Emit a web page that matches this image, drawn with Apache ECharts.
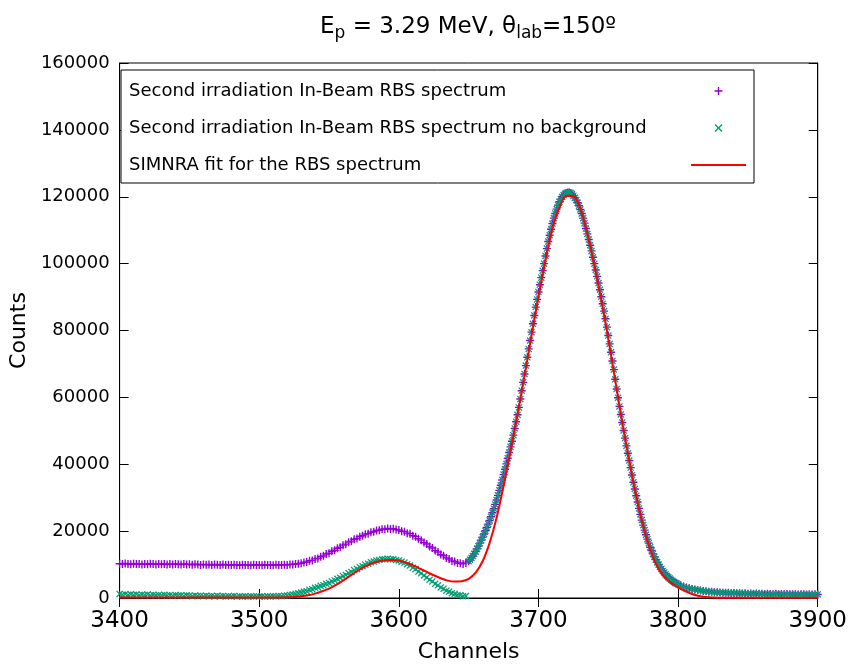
<!DOCTYPE html>
<html>
<head>
<meta charset="utf-8">
<script src="https://cdn.jsdelivr.net/npm/echarts@6/dist/echarts.min.js"></script>
<style>html,body{margin:0;padding:0;background:#fff;}#c{width:850px;height:668px;}</style>
</head>
<body>
<div id="c"></div>
<script>
// Channel sampling of the three spectrum regions
const lowStart = 3400, lowStep = 2;    // 3400..3648
const peakStart = 3650, peakStep = 1;  // 3650..3799
const tailStart = 3800, tailStep = 2;  // 3800..3900
const fitStart = 3400, fitStep = 5;    // 3400..3900

// In-beam RBS spectrum (with background), channels 3400..3648
const rawLow = [
  10250,10150,10300,10200,10100,10250,10150,10200,10050,10200,10100,10250,10150,10050,10200,10100,10150,10000,10150,10050,10200,10100,10000,10150,10050,
  10100,9950,10100,10000,9900,10050,9950,10000,9850,10000,9950,9850,10000,9900,9950,9850,9950,9900,9800,9950,9850,9900,9800,9950,9850,
  9900,9800,9950,9850,9900,9800,9950,9900,9850,9950,9900,10000,10050,10150,10250,
  10400,10650,10750,11150,11250,11700,11850,12350,12600,13150,13400,14000,14300,14900,15200,15800,16100,16700,17000,17550,17800,18350,18600,19100,19250,19700,19800,20200,20250,20550,20550,20800,20650,20700,20450,
  20350,19950,19850,19400,19200,18650,18350,17700,17300,16600,16150,15400,14950,14200,13750,13000,12650,12000,11650,11100,10900,10450,10400,10200,10500
];
// Background-subtracted spectrum, channels 3400..3648
const netLow = [
  1200,1000,1150,900,1100,950,1050,850,1000,900,1050,800,950,850,900,750,950,800,850,700,900,750,800,650,850,
  700,550,750,600,650,500,700,550,600,450,650,500,600,450,550,500,600,400,550,450,500,400,550,450,500,
  450,550,400,500,450,550,500,600,550,700,750,900,1050,1250,1450,
  1650,1900,2050,2450,2650,3050,3250,3650,3850,4250,4450,4950,5250,5750,6050,6550,6900,7450,7800,8350,8700,9200,9500,10000,10250,10700,10900,11250,11350,11600,11600,11750,11600,11600,11350,
  11250,10850,10600,10100,9700,9050,8600,7900,7400,6700,6150,5450,4950,4250,3800,3150,2750,2200,1900,1450,1250,900,800,550,600
];
// Main peak, channels 3650..3799 (same in both spectra)
const peakCounts = [
  11000,11450,12000,12550,13200,13900,14700,15500,16400,17300,
  18200,19150,20100,21100,22100,23200,24300,25500,26700,28000,
  29300,30700,32200,33700,35300,36900,38500,40100,41800,43500,
  45200,46900,48700,50700,52700,54800,57000,59500,62000,64500,
  67000,69500,72000,74500,77000,79500,82000,84500,87000,89300,
  91500,93700,95800,97900,100000,102300,104500,106600,108500,110300,
  112000,113600,115000,116300,117500,118500,119300,120000,120500,120900,
  121100,121300,121300,121100,120800,120300,119700,119000,118200,117300,
  116200,115000,113600,112100,110500,108900,107200,105500,103800,101900,
  100000,98100,96200,94200,92200,90100,88000,85800,83500,81000,
  78500,76000,73500,70900,68300,65400,62500,59900,57300,54900,
  52500,50100,47800,45500,43300,41100,39000,36800,34600,32600,
  30600,28700,26800,25000,23300,21800,20300,18900,17600,16400,
  15200,14200,13200,12300,11500,10700,10000,9300,8700,8100,
  7600,7100,6600,6200,5800,5450,5100,4800,4500,4300
];
// Right tail, channels 3800..3900 (same in both spectra)
const tailCounts = [
  4100,3700,3400,3100,2900,2700,2550,2400,2250,2100,2000,1900,1850,1750,1700,
  1650,1600,1550,1550,1450,1500,1400,1450,1350,1400,
  1300,1350,1250,1350,1250,1300,1200,1250,1200,1150,
  1250,1150,1200,1100,1200,1150,1100,1150,1050,1150,
  1100,1050,1150,1050,1100,1050
];
// SIMNRA fit, channels 3400..3900 step 5
const fitCounts = [
  150,150,150,150,150,150,150,150,150,150,150,150,150,150,150,150,150,150,150,150,150,150,150,150,
  200,300,500,800,1300,2000,2800,3900,5200,6600,8000,9200,10200,10900,11300,11400,11200,10600,9800,8800,
  7800,6800,5900,5200,4900,5000,5700,7600,11000,16500,24000,33500,44000,55000,66500,78500,90000,101000,
  110500,116800,120300,120200,116500,109000,99500,89000,77500,65000,52500,41000,30500,21500,14500,9500,
  6300,4500,3200,2100,1200,600,300,150,100,
  80,80,80,80,80,80,80,80,80,80,80,80,80,80
];

const seriesNames = [
  'Second irradiation In-Beam RBS spectrum',
  'Second irradiation In-Beam RBS spectrum no background',
  'SIMNRA fit for the RBS spectrum'
];

const pairs = (arr, start, step) => arr.map((v, i) => [start + i * step, v]);
const sharedData = pairs(peakCounts, peakStart, peakStep).concat(pairs(tailCounts, tailStart, tailStep));
const rawData = pairs(rawLow, lowStart, lowStep).concat(sharedData);
const netData = pairs(netLow, lowStart, lowStep).concat(sharedData);
const fitData = pairs(fitCounts, fitStart, fitStep);

const FONT = 'DejaVu Sans';
const plusPath = 'path://M3.3,0H4.7V3.3H8V4.7H4.7V8H3.3V4.7H0V3.3H3.3Z';
const crossPath = 'path://M0,1L1,0L4,3L7,0L8,1L5,4L8,7L7,8L4,5L1,8L0,7L3,4Z';
const lineIcon = 'path://M0,0H55V2H0Z';

const chart = echarts.init(document.getElementById('c'), null, {renderer: 'canvas'});
const axisCommon = {
  axisLine: {show: true, lineStyle: {color: '#000', width: 1}},
  axisTick: {show: true, inside: true, length: 9, lineStyle: {color: '#000', width: 1}},
  splitLine: {show: false}
};
const plain = v => String(v);
chart.setOption({
  animation: false,
  backgroundColor: '#fff',
  title: {
    text: '{a|E}{s|p}{a| = 3.29 MeV, θ}{s|lab}{a|=150º}',
    left: 315,
    top: 8,
    textStyle: {
      fontWeight: 'normal',
      rich: {
        a: {fontSize: 23, fontFamily: FONT, color: '#000', fontWeight: 'normal'},
        s: {fontSize: 17, fontFamily: FONT, color: '#000', fontWeight: 'normal', padding: [12, 0, 0, 0]}
      }
    }
  },
  grid: {left: 117, right: 30, top: 63, bottom: 67, show: true, borderColor: '#000', borderWidth: 1},
  legend: {
    orient: 'vertical',
    left: 121,
    top: 70,
    padding: [10, 8, 7, 8],
    itemGap: 15,
    itemWidth: 55,
    itemHeight: 8,
    align: 'right',
    selectedMode: false,
    borderColor: '#000',
    borderWidth: 1,
    backgroundColor: '#fff',
    formatter: name => '{t|' + name + '}',
    textStyle: {
      fontSize: 18, fontFamily: FONT, color: '#000', lineHeight: 22,
      rich: {t: {width: 557, align: 'left', fontSize: 18, fontFamily: FONT, color: '#000', lineHeight: 22}}
    },
    data: [
      {name: seriesNames[0]},
      {name: seriesNames[1]},
      {name: seriesNames[2], icon: lineIcon}
    ]
  },
  xAxis: [
    Object.assign({
      type: 'value', min: 3400, max: 3900, interval: 100, position: 'bottom',
      name: 'Channels', nameLocation: 'middle', nameGap: 43,
      nameTextStyle: {fontSize: 22, fontFamily: FONT, color: '#000'},
      axisLabel: {fontSize: 23, fontFamily: FONT, color: '#000', margin: 12, formatter: plain}
    }, axisCommon),
    Object.assign({
      type: 'value', min: 3400, max: 3900, interval: 100, position: 'top',
      axisLabel: {show: false}
    }, axisCommon)
  ],
  yAxis: [
    Object.assign({
      type: 'value', min: 0, max: 160000, interval: 20000, position: 'left',
      name: 'Counts', nameLocation: 'middle', nameGap: 84,
      nameTextStyle: {fontSize: 22, fontFamily: FONT, color: '#000'},
      axisLabel: {fontSize: 18, fontFamily: FONT, color: '#000', margin: 10, formatter: plain}
    }, axisCommon),
    Object.assign({
      type: 'value', min: 0, max: 160000, interval: 20000, position: 'right',
      axisLabel: {show: false}
    }, axisCommon)
  ],
  series: [
    {
      name: seriesNames[0], type: 'scatter', xAxisIndex: 0, yAxisIndex: 0,
      symbol: plusPath, symbolSize: 8,
      itemStyle: {color: '#9400d3', opacity: 1},
      data: rawData, z: 2
    },
    {
      name: seriesNames[1], type: 'scatter', xAxisIndex: 0, yAxisIndex: 0,
      symbol: crossPath, symbolSize: 7,
      itemStyle: {color: '#009e73', opacity: 1},
      data: netData, z: 3
    },
    {
      name: seriesNames[2], type: 'line', xAxisIndex: 0, yAxisIndex: 0,
      showSymbol: false, symbol: 'none', smooth: 0.3,
      lineStyle: {color: '#ff0000', width: 2},
      itemStyle: {color: '#ff0000'},
      data: fitData, z: 4
    }
  ]
});
</script>
</body>
</html>
